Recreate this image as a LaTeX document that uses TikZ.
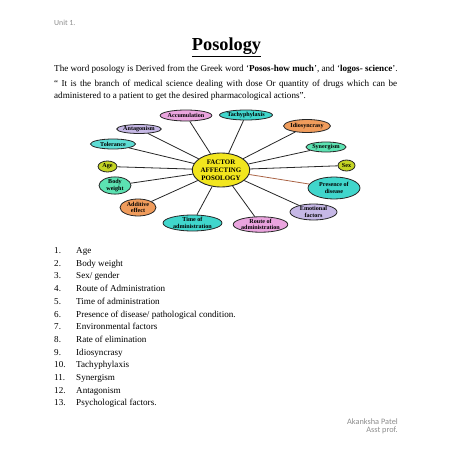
\documentclass[tikz,border=0pt]{standalone}
\usepackage{fontspec}
\setmainfont{Liberation Serif}
\newfontfamily\calibri{Carlito}
\usepackage{xcolor}
\usetikzlibrary{shapes.geometric}
\usetikzlibrary{positioning}

\definecolor{pinkfac}{RGB}{234,164,222}
\definecolor{turqfac}{RGB}{64,214,204}
\definecolor{orangefac}{RGB}{240,156,92}
\definecolor{lavfac}{RGB}{198,184,230}
\definecolor{greenfac}{RGB}{92,226,178}
\definecolor{limefac}{RGB}{196,212,36}
\definecolor{yellowfac}{RGB}{242,230,30}
\definecolor{brownline}{RGB}{170,100,70}

\tikzset{
  factor/.style={ellipse, draw=black!85, line width=0.8pt, inner sep=0pt, align=center,
    font=\fontsize{6.1}{6.6}\selectfont\bfseries},
  spoke/.style={line width=0.8pt, black!85},
  bodytext/.style={inner sep=0pt, font=\fontsize{9.1}{12}\selectfont},
  pagenote/.style={inner sep=0pt, text=black!45, font=\calibri\fontsize{8.3}{9}\selectfont},
}

\begin{document}
\begin{tikzpicture}[x=1pt,y=-1pt]
  \useasboundingbox (0,0) rectangle (452,452);

  % header and title
  \node[pagenote, anchor=base west, font=\calibri\fontsize{7.8}{9}\selectfont] (unit) at (54,25.5) {Unit 1.};
  \node[inner sep=0pt, font=\fontsize{18.3}{20}\selectfont\bfseries] (title) at (226.5,47) {\underline{Posology}};

  % introduction
  \node[bodytext, anchor=base west] (intro) at (54,71.5)
    {The word posology is Derived from the Greek word `\textbf{Posos-how much}', and `\textbf{logos- science}'.};
  \node[bodytext, anchor=north west, text width=343pt, align=justify] (quote) at (54,80)
    {\hyphenpenalty=10000\exhyphenpenalty=10000
     `` It is the branch of medical science dealing with dose Or quantity of drugs which can be administered to a patient to get the desired pharmacological actions''.};

  % centre of the diagram
  \node[ellipse, draw=black!85, line width=0.9pt, fill=yellowfac, inner sep=0pt,
        minimum width=54pt, minimum height=34pt, align=center,
        font=\fontsize{6.9}{8}\selectfont\bfseries] (centre) at (221,170)
        {FACTOR\\AFFECTING\\POSOLOGY};

  % factors
  \node[factor, fill=pinkfac, minimum width=49pt, minimum height=11pt] (accum) at (186,115.5) {Accumulation};
  \node[factor, fill=turqfac, minimum width=48pt, minimum height=10pt] (tachy) at (246,115) {Tachyphylaxis};
  \node[factor, fill=orangefac, minimum width=46pt, minimum height=13pt] (idio) at (307,126) {Idiosyncrasy};
  \node[factor, fill=lavfac, minimum width=44pt, minimum height=9pt] (antag) at (139,129) {Antagonism};
  \node[factor, fill=turqfac!85, minimum width=45pt, minimum height=10pt] (toler) at (113,144) {Tolerance};
  \node[factor, fill=greenfac, minimum width=40pt, minimum height=10pt] (syner) at (326,147) {Synergism};
  \node[factor, fill=limefac, minimum width=19pt, minimum height=11pt] (age) at (107.5,166.5) {Age};
  \node[factor, fill=limefac, minimum width=17pt, minimum height=11pt] (sex) at (346.5,165.5) {Sex};
  \node[factor, fill=greenfac, minimum width=32pt, minimum height=15pt] (body) at (115,185.5) {Body\\weight};
  \node[factor, fill=turqfac, minimum width=52pt, minimum height=22pt] (pres) at (334,188) {Presence of\\disease};
  \node[factor, fill=orangefac, minimum width=36pt, minimum height=17pt] (addit) at (138,207.5) {Additive\\effect};
  \node[factor, fill=lavfac, minimum width=47pt, minimum height=16pt] (emot) at (313.5,212) {Emotional\\factors};
  \node[factor, fill=turqfac, minimum width=59pt, minimum height=16pt] (timead) at (192.5,223) {Time of\\administration};
  \node[factor, fill=pinkfac, minimum width=53pt, minimum height=15pt] (route) at (260.5,224.5) {Route of\\administration};

  % spokes
  \foreach \f in {accum,tachy,idio,antag,toler,syner,age,sex,body,addit,emot,timead,route}
    \draw[spoke] (centre) -- (\f);
  \draw[spoke, draw=brownline] (centre) -- (pres);

  % list of factors
  \foreach \txt [count=\i] in {Age, Body weight, Sex/ gender, Route of Administration,
      Time of administration, Presence of disease/ pathological condition.,
      Environmental factors, Rate of elimination, Idiosyncrasy, Tachyphylaxis,
      Synergism, Antagonism, Psychological factors.}
  {
    \node[bodytext, anchor=base west] (num\i) at (54,{253.5+12.7*(\i-1)}) {\i.};
    \node[bodytext, anchor=base west] (item\i) at (76,{253.5+12.7*(\i-1)}) {\txt};
  }

  % footer
  \node[pagenote, anchor=base east] (author) at (398,424.5) {Akanksha Patel};
  \node[pagenote, anchor=base east] (post) at (398,432) {Asst prof.};

\end{tikzpicture}
\end{document}
